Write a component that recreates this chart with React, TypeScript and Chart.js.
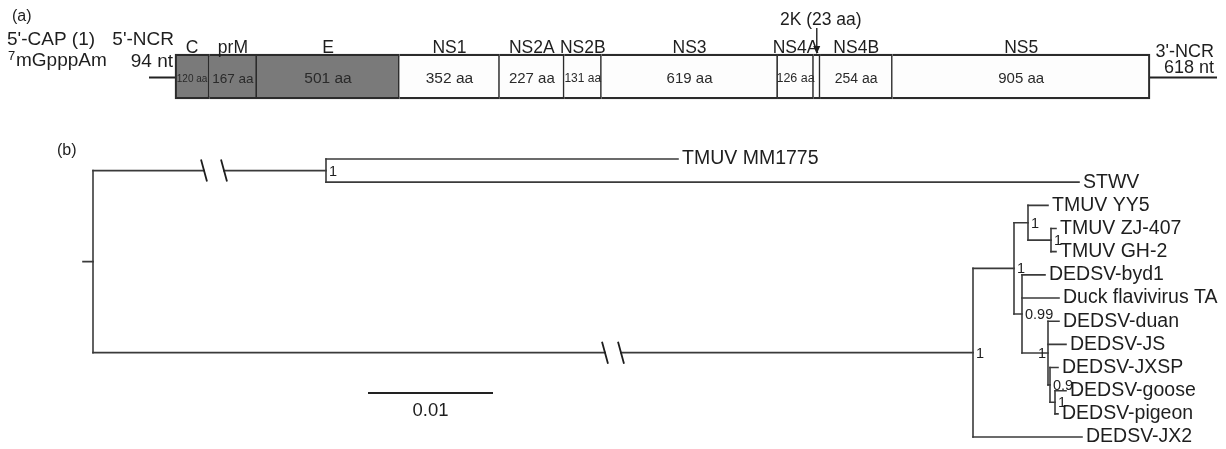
import React, { useEffect, useRef } from "react";
import { Chart, registerables } from "chart.js";

Chart.register(...registerables);

const FONT = '"Liberation Sans", Arial, Helvetica, sans-serif';
const INK = "#1e1e1e";
const LINE = "#3a3a3a";

// ---------- (a) genome map data ----------
const proteinNames = ["C", "prM", "E", "NS1", "NS2A", "NS2B", "NS3", "NS4A", "2K", "NS4B", "NS5"];
const proteinLengthsAa = [120, 167, 501, 352, 227, 131, 619, 126, 23, 254, 905];
const structuralProteins = ["C", "prM", "E"];
const arrowLabelled = "2K";
const ncr5Nt = 94;
const ncr3Nt = 618;
// style: font size of the "xxx aa" label inside each box
const aaLabelFontPx = [10, 13.5, 15.5, 15.5, 15, 12, 15, 12.5, 0, 14, 15];
// drawn length of the NCR tails (in aa-scale units, schematic)
const NCR5_DRAW = 91.3;
const NCR3_DRAW = 235.4;

// ---------- (b) phylogenetic tree data ----------
const treeNodes = ["root", "M", "TMUV MM1775", "STWV", "R", "A", "B", "TMUV YY5", "Cn", "TMUV ZJ-407", "TMUV GH-2",
  "D", "DEDSV-byd1", "Duck flavivirus TA", "F", "DEDSV-duan", "DEDSV-JS", "G", "DEDSV-JXSP", "H",
  "DEDSV-goose", "DEDSV-pigeon", "DEDSV-JX2"];
const treeParents = [null, "root", "M", "M", "root", "R", "A", "B", "B", "Cn", "Cn",
  "A", "D", "D", "D", "F", "F", "F", "G", "G",
  "H", "H", "R"];
// depth from root as drawn (substitutions/site; long branches are broken in the figure)
const treeDepths = [0, 0.01864, 0.0468, 0.07888, 0.0704, 0.07368, 0.0748, 0.0764, 0.07664, 0.07704, 0.07704,
  0.07432, 0.07616, 0.07728, 0.0764, 0.07728, 0.07784, 0.07656, 0.0772, 0.07696,
  0.07784, 0.0772, 0.07912];
const treeSupport = ["", "1", "", "", "1", "1", "1", "", "1", "", "",
  "0.99", "", "", "1", "", "", "0.9", "", "1",
  "", "", ""];
const supportOnLeft = ["F"];
const breakMarks = [
  { node: "M", at: [0.00888, 0.01048] },
  { node: "R", at: [0.04096, 0.04224] },
];
const scaleBarValue = 0.01;
const scaleBarLabel = "0.01";

function genomeConfig(): any {
  const starts: number[] = [];
  let s = 0;
  proteinLengthsAa.forEach((l) => { starts.push(s); s += l; });
  const total = s;
  const last = proteinNames.length - 1;

  const annot = {
    id: "genomeAnnot",
    afterDatasetsDraw(chart: any) {
      const ctx = chart.ctx;
      const xs = chart.scales.x;
      const el: any = chart.getDatasetMeta(0).data[0];
      const yc = el.y;
      const top = yc - el.height / 2;
      ctx.save();
      ctx.fillStyle = INK;
      ctx.strokeStyle = "#222";
      // NCR tails
      ctx.lineWidth = 2;
      ctx.beginPath();
      ctx.moveTo(xs.getPixelForValue(-NCR5_DRAW), yc + 1);
      ctx.lineTo(xs.getPixelForValue(0), yc + 1);
      ctx.moveTo(xs.getPixelForValue(total), yc + 1);
      ctx.lineTo(xs.getPixelForValue(total + NCR3_DRAW), yc + 1);
      ctx.stroke();

      proteinNames.forEach((name, i) => {
        const cx = xs.getPixelForValue(starts[i] + proteinLengthsAa[i] / 2);
        if (name === arrowLabelled) {
          ctx.font = `17.5px ${FONT}`;
          ctx.textAlign = "center";
          ctx.textBaseline = "middle";
          ctx.fillStyle = INK;
          ctx.fillText(`${name} (${proteinLengthsAa[i]} aa)`, cx + 4, 20);
          ctx.lineWidth = 1.4;
          ctx.beginPath();
          ctx.moveTo(cx, 28);
          ctx.lineTo(cx, top - 6);
          ctx.stroke();
          ctx.beginPath();
          ctx.moveTo(cx - 3.5, top - 8);
          ctx.lineTo(cx + 3.5, top - 8);
          ctx.lineTo(cx, top);
          ctx.closePath();
          ctx.fill();
          return;
        }
        ctx.font = `17.5px ${FONT}`;
        ctx.textAlign = "center";
        ctx.textBaseline = "alphabetic";
        ctx.fillStyle = INK;
        ctx.fillText(name, cx, top - 1);
        ctx.font = `${aaLabelFontPx[i]}px ${FONT}`;
        ctx.textBaseline = "middle";
        ctx.fillStyle = "#2a2a2a";
        ctx.fillText(`${proteinLengthsAa[i]} aa`, cx, yc + 2.5);
      });

      ctx.fillStyle = INK;
      ctx.textBaseline = "middle";
      ctx.font = `16px ${FONT}`;
      ctx.textAlign = "left";
      ctx.fillText("(a)", 12, 17);
      ctx.font = `19px ${FONT}`;
      ctx.fillText("5'-CAP (1)", 7, 40);
      ctx.font = `13px ${FONT}`;
      ctx.fillText("7", 8, 56);
      ctx.font = `19px ${FONT}`;
      ctx.fillText("mGpppAm", 16, 61);
      ctx.textAlign = "right";
      ctx.fillText("5'-NCR", 174, 40);
      ctx.fillText(`${ncr5Nt} nt`, 173, 62);
      ctx.font = `18px ${FONT}`;
      ctx.fillText("3'-NCR", 1214, 52);
      ctx.fillText(`${ncr3Nt} nt`, 1214, 68);
      ctx.restore();
    },
  };

  return {
    type: "bar",
    data: {
      labels: ["genome"],
      datasets: proteinNames.map((name, i) => ({
        label: name,
        data: [proteinLengthsAa[i]],
        backgroundColor: structuralProteins.includes(name) ? "#7a7a7a" : "#fdfdfd",
        borderColor: "#2b2b2b",
        borderWidth: { top: 2.4, bottom: 2.4, left: i === 0 ? 2.2 : 0, right: i === last ? 2.2 : 1.6 },
        borderSkipped: false,
        barThickness: 45,
        stack: "p",
      })),
    },
    options: {
      indexAxis: "y",
      animation: false,
      responsive: true,
      maintainAspectRatio: false,
      layout: { padding: { left: 149, right: 9, top: 43, bottom: 0 } },
      scales: {
        x: { type: "linear", stacked: true, display: false, min: -NCR5_DRAW, max: total + NCR3_DRAW },
        y: { stacked: true, display: false },
      },
      plugins: { legend: { display: false }, tooltip: { enabled: false } },
    },
    plugins: [annot],
  };
}

function treeConfig(): any {
  const depthOf: Record<string, number> = {};
  const children: Record<string, string[]> = {};
  treeNodes.forEach((n, i) => {
    depthOf[n] = treeDepths[i];
    const p = treeParents[i];
    if (p) (children[p] = children[p] || []).push(n);
  });
  const rowOf: Record<string, number> = {};
  let row = 0;
  const layout = (n: string): number => {
    const ch = children[n];
    if (!ch) { rowOf[n] = row++; return rowOf[n]; }
    const ys = ch.map(layout);
    rowOf[n] = (ys[0] + ys[ys.length - 1]) / 2;
    return rowOf[n];
  };
  layout("root");

  const segs: { x: number; y: number }[][] = [];
  segs.push([{ x: -0.0008, y: rowOf.root }, { x: 0, y: rowOf.root }]);
  treeNodes.forEach((n, i) => {
    const p = treeParents[i];
    if (p) segs.push([{ x: depthOf[p], y: rowOf[n] }, { x: depthOf[n], y: rowOf[n] }]);
    const ch = children[n];
    if (ch) segs.push([{ x: depthOf[n], y: rowOf[ch[0]] }, { x: depthOf[n], y: rowOf[ch[ch.length - 1]] }]);
  });

  const annot = {
    id: "treeAnnot",
    afterDatasetsDraw(chart: any) {
      const ctx = chart.ctx;
      const xs = chart.scales.x;
      const ys = chart.scales.y;
      ctx.save();
      // break marks
      breakMarks.forEach((b) => {
        const y = ys.getPixelForValue(rowOf[b.node]);
        const x1 = xs.getPixelForValue(b.at[0]);
        const x2 = xs.getPixelForValue(b.at[1]);
        ctx.fillStyle = "#fff";
        ctx.fillRect(x1 + 1, y - 2, x2 - x1 - 2, 4);
        ctx.strokeStyle = "#1e1e1e";
        ctx.lineWidth = 1.8;
        ctx.beginPath();
        [x1, x2].forEach((x) => {
          ctx.moveTo(x - 3, y - 11);
          ctx.lineTo(x + 3, y + 11);
        });
        ctx.stroke();
      });
      // leaf labels and support values
      ctx.fillStyle = INK;
      ctx.textBaseline = "middle";
      treeNodes.forEach((n, i) => {
        const x = xs.getPixelForValue(depthOf[n]);
        const y = ys.getPixelForValue(rowOf[n]);
        if (!children[n]) {
          ctx.font = `19.5px ${FONT}`;
          ctx.textAlign = "left";
          ctx.fillText(n, x + 4, y);
        } else if (treeSupport[i]) {
          ctx.font = `14.5px ${FONT}`;
          if (supportOnLeft.includes(n)) {
            ctx.textAlign = "right";
            ctx.fillText(treeSupport[i], x - 2, y + 1);
          } else {
            ctx.textAlign = "left";
            ctx.fillText(treeSupport[i], x + 3, y + 1);
          }
        }
      });
      // scale bar
      const sbRow = 10.1;
      const sy = ys.getPixelForValue(sbRow);
      const sx1 = xs.getPixelForValue(0.022);
      const sx2 = xs.getPixelForValue(0.022 + scaleBarValue);
      ctx.strokeStyle = "#222";
      ctx.lineWidth = 2;
      ctx.beginPath();
      ctx.moveTo(sx1, sy);
      ctx.lineTo(sx2, sy);
      ctx.stroke();
      ctx.font = `18.5px ${FONT}`;
      ctx.textAlign = "center";
      ctx.fillText(scaleBarLabel, (sx1 + sx2) / 2, sy + 18);
      // panel label
      ctx.font = `16px ${FONT}`;
      ctx.textAlign = "left";
      ctx.fillText("(b)", 57, 41);
      ctx.restore();
    },
  };

  return {
    type: "scatter",
    data: {
      datasets: segs.map((seg) => ({
        data: seg,
        showLine: true,
        borderColor: LINE,
        borderWidth: 1.6,
        borderCapStyle: "square",
        pointRadius: 0,
        pointHoverRadius: 0,
        fill: false,
        tension: 0,
      })),
    },
    options: {
      animation: false,
      responsive: true,
      maintainAspectRatio: false,
      layout: { padding: { left: 79, right: 4, top: 14.25, bottom: 0.4 } },
      scales: {
        x: { type: "linear", display: false, min: -0.00112, max: 0.09032 },
        y: { type: "linear", display: false, reverse: true, min: -1.5, max: 12.5 },
      },
      plugins: { legend: { display: false }, tooltip: { enabled: false } },
    },
    plugins: [annot],
  };
}

export default function App() {
  const genomeRef = useRef<HTMLCanvasElement>(null);
  const treeRef = useRef<HTMLCanvasElement>(null);
  useEffect(() => {
    const g = new Chart(genomeRef.current as HTMLCanvasElement, genomeConfig());
    const t = new Chart(treeRef.current as HTMLCanvasElement, treeConfig());
    return () => {
      g.destroy();
      t.destroy();
    };
  }, []);
  return (
    <div style={{ position: "fixed", left: 0, top: 0, width: 1226, height: 449, background: "#fff" }}>
      <div style={{ position: "absolute", left: 0, top: 0, width: 1226, height: 110 }}>
        <canvas ref={genomeRef} />
      </div>
      <div style={{ position: "absolute", left: 0, top: 110, width: 1226, height: 339 }}>
        <canvas ref={treeRef} />
      </div>
    </div>
  );
}
